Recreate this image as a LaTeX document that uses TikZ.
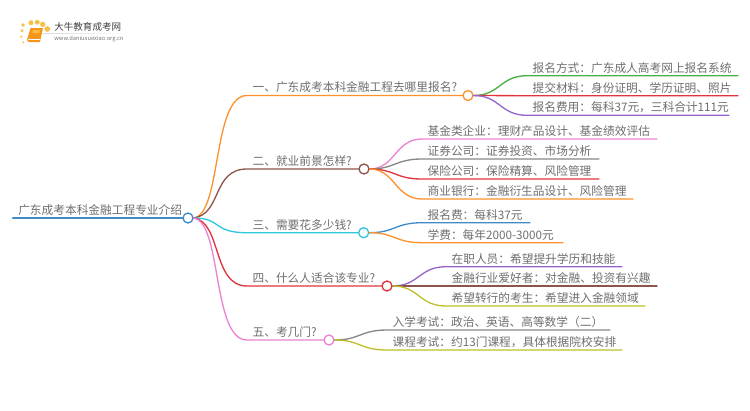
\documentclass[tikz,border=0pt]{standalone}
\usepackage{fontspec}
\setmainfont{Noto Sans CJK SC}
\usetikzlibrary{shadings}
\definecolor{mapblue}{RGB}{61,139,201}
\definecolor{maporange}{RGB}{255,145,45}
\definecolor{mapbrown}{RGB}{140,85,75}
\definecolor{mapcyan}{RGB}{45,200,220}
\definecolor{mapred}{RGB}{226,50,60}
\definecolor{mappink}{RGB}{235,130,210}
\definecolor{mapgreen}{RGB}{70,175,70}
\definecolor{mappurple}{RGB}{150,100,205}
\definecolor{mapgray}{RGB}{135,135,135}
\definecolor{mapolive}{RGB}{190,190,45}
\definecolor{maptext}{RGB}{110,110,110}
\definecolor{logodot}{RGB}{248,190,70}
\definecolor{logobook}{RGB}{245,150,25}
\tikzset{
  topic/.style={font=\fontsize{6.66}{8}\selectfont,text=maptext,anchor=south west,inner xsep=3pt,inner ysep=0.7pt,text height=6.2pt,text depth=1.1pt},
  hub/.style={circle,draw=#1,fill=white,line width=0.75pt,inner sep=0pt,minimum size=5.7pt},
  branch/.style={line width=0.75pt,line cap=round},
}
\begin{document}
\begin{tikzpicture}[x=0.02cm,y=-0.02cm,line cap=round,line join=round]
\useasboundingbox (0,0) rectangle (750,410);
\fill[logodot] (23,25) circle (1.1pt);
\fill[logodot] (31,22.7) circle (1.4pt);
\fill[logodot] (37.3,22.3) circle (1.4pt);
\fill[logodot] (42.7,24.3) circle (1.5pt);
\fill[logodot] (47.3,29) circle (1.6pt);
\fill[logodot] (22,30.7) circle (0.9pt);
\fill[logodot] (21.3,36.7) circle (0.7pt);
\fill[logodot] (23.3,42.3) circle (0.6pt);
\fill[logobook] (30.5,28) -- (43,28) -- (40,42) -- (29,42) -- (27,40) -- cycle;
\fill[logodot] (33,30) -- (40,30) -- (39.5,33) -- (32.5,33) -- cycle;
\draw[white,line width=0.3pt] (28.5,39.5) -- (40.3,39.5);
\node[font=\fontsize{5.43}{7}\selectfont,text=black!75,anchor=west,inner sep=0pt] (logoname) at (54,27) {大牛教育成考网};
\node[font=\fontsize{3.26}{5}\selectfont,text=black!55,anchor=west,inner sep=0pt] (logourl) at (54,38.7) {www.daniuxuexiao.org.cn};
\shade[left color=black!15,right color=white] (43,33) rectangle (133,33.6);

\node[topic,inner xsep=2.8pt] (root) at (13,218) {广东成考本科金融工程专业介绍};
\node[hub=mapblue] (roothub) at (188,218) {};
\node[topic] (qa) at (247,95.5) {一、广东成考本科金融工程去哪里报名?};
\node[hub=maporange] (qahub) at (468,95.5) {};
\node[topic] (qb) at (247,169) {二、就业前景怎样?};
\node[hub=mapbrown] (qbhub) at (364,169) {};
\node[topic] (qc) at (247,232.7) {三、需要花多少钱?};
\node[hub=mapcyan] (qchub) at (363.7,232.7) {};
\node[topic] (qd) at (247,286) {四、什么人适合该专业?};
\node[hub=mapred] (qdhub) at (387,286) {};
\node[topic] (qe) at (247,340) {五、考几门?};
\node[hub=mappink] (qehub) at (329,340) {};

\node[topic] (aa) at (527,75.7) {报名方式：广东成人高考网上报名系统};
\node[topic] (ab) at (527,95.7) {提交材料：身份证明、学历证明、照片};
\node[topic] (ac) at (527,115.3) {报名费用：每科37元，三科合计111元};
\node[topic] (ba) at (422,139) {基金类企业：理财产品设计、基金绩效评估};
\node[topic] (bb) at (422,159) {证券公司：证券投资、市场分析};
\node[topic] (bc) at (422,179) {保险公司：保险精算、风险管理};
\node[topic] (bd) at (422,199) {商业银行：金融衍生品设计、风险管理};
\node[topic] (ca) at (422,222.7) {报名费：每科37元};
\node[topic] (cb) at (422,242.7) {学费：每年2000-3000元};
\node[topic] (da) at (446,266.7) {在职人员：希望提升学历和技能};
\node[topic] (db) at (446,286) {金融行业爱好者：对金融、投资有兴趣};
\node[topic] (dc) at (446,306) {希望转行的考生：希望进入金融领域};
\node[topic] (ea) at (387,330) {入学考试：政治、英语、高等数学（二）};
\node[topic] (eb) at (387,350) {课程考试：约13门课程，具体根据院校安排};

\draw[mapblue,line width=1.2pt] (root.south west) -- (roothub.west);
\draw[branch,maporange] (roothub.east) .. controls (222,214) and (212,95.5) .. (qa.south west) -- (qahub.west);
\draw[branch,mapbrown] (roothub.east) .. controls (222,214) and (212,169) .. (qb.south west) -- (qbhub.west);
\draw[branch,mapcyan] (roothub.east) .. controls (222,218) and (212,232.7) .. (qc.south west) -- (qchub.west);
\draw[branch,mapred] (roothub.east) .. controls (222,222) and (212,286) .. (qd.south west) -- (qdhub.west);
\draw[branch,mappink] (roothub.east) .. controls (222,222) and (212,340) .. (qe.south west) -- (qehub.west);

\draw[branch,mapgreen] (qahub.east) .. controls (500,95.5) and (500,75.7) .. (aa.south west) -- (738,75.7);
\draw[branch,mapred] (qahub.east) -- (ab.south west) -- (738,95.7);
\draw[branch,mappurple] (qahub.east) .. controls (500,95.5) and (500,115.3) .. (ac.south west) -- (729,115.3);
\draw[branch,mappink] (qbhub.east) .. controls (395,169) and (395,139) .. (ba.south west) -- (657,139);
\draw[branch,mapgray] (qbhub.east) .. controls (395,169) and (395,159) .. (bb.south west) -- (599,159);
\draw[branch,mapred] (qbhub.east) .. controls (395,169) and (395,179) .. (bc.south west) -- (599,179);
\draw[branch,maporange] (qbhub.east) .. controls (395,169) and (395,199) .. (bd.south west) -- (633,199);
\draw[branch,mapblue] (qchub.east) .. controls (395,232.7) and (395,222.7) .. (ca.south west) -- (530,222.7);
\draw[branch,maporange] (qchub.east) .. controls (395,232.7) and (395,242.7) .. (cb.south west) -- (563,242.7);
\draw[branch,mappurple] (qdhub.east) .. controls (419,286) and (419,266.7) .. (da.south west) -- (622,266.7);
\draw[branch,mapbrown] (qdhub.east) -- (db.south west) -- (657,286);
\draw[branch,mapolive] (qdhub.east) .. controls (419,286) and (419,306) .. (dc.south west) -- (645,306);
\draw[branch,mapgray] (qehub.east) .. controls (360,340) and (360,330) .. (ea.south west) -- (610,330);
\draw[branch,mapolive] (qehub.east) .. controls (360,340) and (360,350) .. (eb.south west) -- (622,350);
\end{tikzpicture}
\end{document}
